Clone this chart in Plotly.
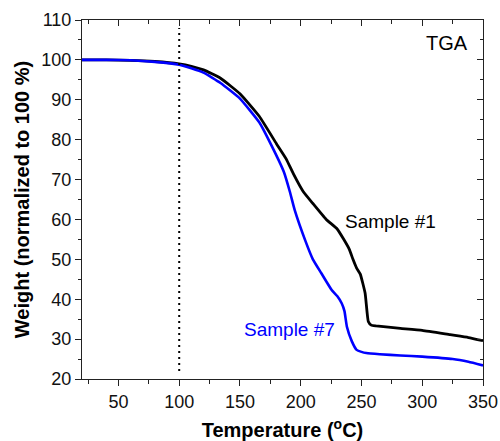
import plotly.graph_objects as go

# Sample #1 (black)
temp_s1 = [20, 40, 60, 80, 100, 110, 120, 134, 150, 166, 180, 188, 194, 202, 210, 221,
           230, 235, 240, 243, 246, 249, 253, 255.6, 258, 262, 282, 300, 323, 338, 350]
weight_s1 = [100, 100, 99.9, 99.6, 99.0, 98.4, 97.5, 95.4, 91.5, 85.8, 79.0, 75.2, 71.4, 67.0, 64.0, 60.0,
             57.6, 55.2, 52.5, 50.0, 47.8, 46.3, 41.5, 34.4, 33.5, 33.3, 32.7, 32.2, 31.1, 30.4, 29.6]

# Sample #7 (blue)
temp_s7 = [20, 40, 60, 80, 100, 110, 120, 134, 150, 166, 176, 186, 191, 195, 204, 210, 217,
           225.5, 230, 233.7, 236, 238, 242, 246, 250, 254, 265, 282, 300, 325, 338, 350]
weight_s7 = [100, 100, 99.9, 99.5, 98.8, 97.9, 96.8, 94.2, 90.3, 84.3, 78.5, 72.0, 67.0, 62.4, 54.5, 50.0, 46.5,
             42.3, 40.8, 39.0, 37.0, 33.1, 29.5, 27.3, 26.8, 26.5, 26.2, 25.9, 25.6, 25.0, 24.3, 23.4]

marker_T = [100]
x_ticks = [50, 100, 150, 200, 250, 300, 350]
y_ticks = [20, 30, 40, 50, 60, 70, 80, 90, 100, 110]

FONT = "Liberation Sans, Arial, sans-serif"
AX = "#222222"

fig = go.Figure()
fig.add_trace(go.Scatter(x=temp_s1, y=weight_s1, mode="lines",
                         line=dict(color="black", width=2.8, shape="spline", smoothing=0.4), showlegend=False))
fig.add_trace(go.Scatter(x=temp_s7, y=weight_s7, mode="lines",
                         line=dict(color="#0000ff", width=2.6, shape="spline", smoothing=0.4), showlegend=False))
# invisible trace to anchor mirrored axes
fig.add_trace(go.Scatter(x=temp_s1, y=weight_s1, mode="lines", xaxis="x2", yaxis="y2",
                         line=dict(color="rgba(0,0,0,0)", width=0), showlegend=False, hoverinfo="skip"))

fig.add_shape(type="line", x0=marker_T[0], x1=marker_T[0], y0=22, y1=108,
              xref="x", yref="y", line=dict(color="black", width=2, dash="2px,4px"))

fig.add_annotation(x=274, y=59.4, text="Sample #1", showarrow=False,
                   font=dict(family=FONT, size=19, color="black"))
fig.add_annotation(x=190.5, y=32.3, text="Sample #7", showarrow=False,
                   font=dict(family=FONT, size=19, color="#0000ff"))
fig.add_annotation(x=339.5, y=104.2, text="TGA", showarrow=False, xanchor="right",
                   font=dict(family=FONT, size=20, color="black"))

fig.update_layout(
    width=500, height=441,
    margin=dict(l=82, r=17, t=20, b=62, autoexpand=False),
    paper_bgcolor="white", plot_bgcolor="white",
    font=dict(family=FONT, color="black"),
    xaxis=dict(range=[20, 350], tickmode="array", tickvals=x_ticks, automargin=False,
               ticks="outside", ticklen=6, tickwidth=1, tickcolor=AX,
               minor=dict(ticks="outside", ticklen=4, tickcolor=AX, dtick=25, tick0=0),
               showline=True, linecolor=AX, linewidth=1, showgrid=False, zeroline=False,
               tickfont=dict(size=18, family=FONT, color="#111"),
               title=dict(text="<b>Temperature (<sup>o</sup>C)</b>", font=dict(size=20, family=FONT), standoff=12)),
    yaxis=dict(range=[20, 110], tickmode="array", tickvals=y_ticks, automargin=False,
               ticks="outside", ticklen=6, tickwidth=1, tickcolor=AX,
               minor=dict(ticks="outside", ticklen=3, tickcolor=AX, dtick=5, tick0=0),
               showline=True, linecolor=AX, linewidth=1, showgrid=False, zeroline=False,
               tickfont=dict(size=18, family=FONT, color="#111"),
               title=dict(text="<b>Weight (normalized to 100 %)</b>", font=dict(size=20, family=FONT), standoff=6)),
    xaxis2=dict(range=[20, 350], overlaying="x", side="top", anchor="y2", automargin=False,
                tickmode="array", tickvals=x_ticks, showticklabels=False,
                ticks="inside", ticklen=6, tickcolor=AX,
                minor=dict(ticks="inside", ticklen=4, tickcolor=AX, dtick=25, tick0=0),
                showline=True, linecolor=AX, linewidth=1, showgrid=False, zeroline=False),
    yaxis2=dict(range=[20, 110], overlaying="y", side="right", anchor="x2", automargin=False,
                tickmode="array", tickvals=y_ticks, showticklabels=False,
                ticks="inside", ticklen=6, tickcolor=AX,
                minor=dict(ticks="inside", ticklen=3, tickcolor=AX, dtick=5, tick0=0),
                showline=True, linecolor=AX, linewidth=1, showgrid=False, zeroline=False),
)

fig.write_html("out.html", config={"displayModeBar": False},
               post_script="document.body.style.margin='0';document.body.style.overflow='hidden';")
